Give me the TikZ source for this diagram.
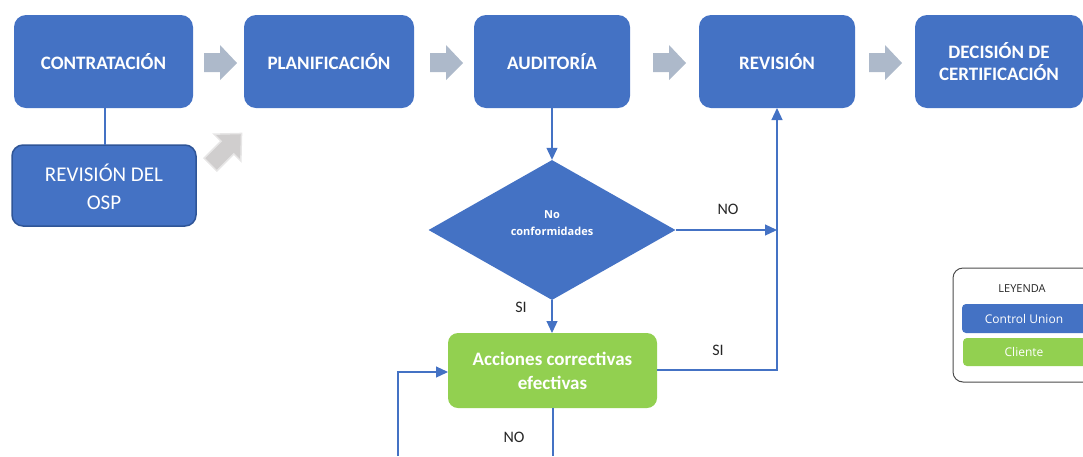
\documentclass[tikz,border=0pt]{standalone}
\usepackage{fontspec}
\setmainfont{Carlito}
\newfontfamily\smallfont{Open Sans}
\usetikzlibrary{arrows.meta,shapes.geometric}
\definecolor{cublue}{HTML}{4472C4}
\definecolor{cugreen}{HTML}{92D050}
\definecolor{graya}{HTML}{ADB9CA}
\definecolor{grayb}{HTML}{D0CECE}
\definecolor{grayc}{HTML}{E7E6E6}
\definecolor{osp}{HTML}{2F5597}
\tikzset{
  x=1pt,y=-1pt,
  stage/.style={draw=none,fill=cublue,rounded corners=12pt,text=white,font=\bfseries\fontsize{19}{22}\selectfont,align=center},
  client/.style={draw=none,fill=cugreen,rounded corners=10pt,text=white,font=\bfseries\fontsize{19}{24}\selectfont,align=center},
  conn/.style={draw=cublue,line width=1.2pt},
  arr/.style={conn,-{Triangle[length=12pt,width=11pt]}},
  lbl/.style={font=\fontsize{16}{18}\selectfont,text=black!85},
}
\newcommand{\flowarrow}[1]{%
  \fill[graya] (#1,53) -- (#1+16,53) -- (#1+16,45) -- (#1+33,63) -- (#1+16,80) -- (#1+16,72) -- (#1,72) -- cycle;}
\begin{document}
\begin{tikzpicture}
\useasboundingbox (0,0) rectangle (1083,456);
% stage boxes
\path[stage] (14,15) rectangle (193,108);
\node[stage] (contr) at (103.5,62) {CONTRATACIÓN};
\path[stage] (244,15) rectangle (414,108);
\node[stage] (plan) at (329,62) {PLANIFICACIÓN};
\path[stage] (474,15) rectangle (630,108);
\node[stage] (aud) at (552,62) {AUDITORÍA};
\path[stage] (699,15) rectangle (855,108);
\node[stage] (rev) at (777,62) {REVISIÓN};
\path[stage] (915,15) rectangle (1083,108);
\node[stage] (dec) at (999,62) {DECISIÓN DE\\CERTIFICACIÓN};
\coordinate (contrS) at (105,108);
\coordinate (audS) at (552,108);
\coordinate (revS) at (777,108);
% gray flow arrows
\flowarrow{204}
\flowarrow{430}
\flowarrow{653}
\flowarrow{869}
% diagonal arrow
\begin{scope}[shift={(226,149)},rotate=45]
\filldraw[fill=grayb,draw=grayc,line width=1.5pt] (-22,-9) -- (2,-9) -- (2,-19) -- (22,0) -- (2,19) -- (2,9) -- (-22,9) -- cycle;
\end{scope}
% OSP box
\draw[fill=cublue,draw=osp,line width=1.5pt,rounded corners=11pt] (12,145) rectangle (196,226);
\node[text=white,font=\fontsize{21}{28}\selectfont,align=center] (osp) at (104,187) {REVISIÓN DEL\\OSP};
\coordinate (ospN) at (105,145);
\draw[conn] (contrS) -- (ospN);
% diamond
\node[diamond,fill=cublue,minimum width=247pt,minimum height=140pt,inner sep=0pt,aspect=1.76] (nc) at (552,230) {};
\node[text=white,font=\smallfont\bfseries\fontsize{11}{17}\selectfont,align=center] (nct) at (552,223) {No\\conformidades};
\draw[arr] (audS) -- (nc.north);
% green box
\path[client] (448,333) rectangle (657,408);
\node[client,fill=none] (acc) at (552.5,370.5) {Acciones correctivas\\efectivas};
\coordinate (accN) at (552,333);
\coordinate (accE) at (657,370);
\coordinate (accW) at (448,372);
\coordinate (accS) at (553,408);
\draw[arr] (nc.south) -- (accN);
% right vertical
\coordinate (jn) at (777,230);
\coordinate (jc) at (777,370);
\draw[arr] (nc.east) -- (jn);
\draw[conn] (accE) -- (jc) -- (jn);
\draw[arr] (jn) -- (revS);
% bottom loop
\coordinate (bot1) at (553,456);
\coordinate (bot2) at (398,456);
\coordinate (lc) at (398,372);
\draw[conn] (accS) -- (bot1);
\draw[arr] (bot2) -- (lc) -- (accW);
% labels
\node[lbl] (lno1) at (728,209) {NO};
\node[lbl] (lsi1) at (521,307) {SI};
\node[lbl] (lsi2) at (718,350) {SI};
\node[lbl] (lno2) at (514,437) {NO};
% legend
\draw[draw=black!70,line width=1pt,rounded corners=10pt,fill=white] (953,268) rectangle (1095,382);
\node[font=\smallfont\fontsize{11}{13}\selectfont,text=black!85] (ley) at (1022,289) {LEYENDA};
\fill[cublue,rounded corners=4pt] (962,304) rectangle (1090,333);
\node[text=white,font=\smallfont\fontsize{12}{14}\selectfont] (cu) at (1024,318.5) {Control Union};
\fill[cugreen,rounded corners=4pt] (963,338) rectangle (1090,366);
\node[text=white,font=\smallfont\fontsize{12}{14}\selectfont] (cl) at (1024,352) {Cliente};
\end{tikzpicture}
\end{document}
